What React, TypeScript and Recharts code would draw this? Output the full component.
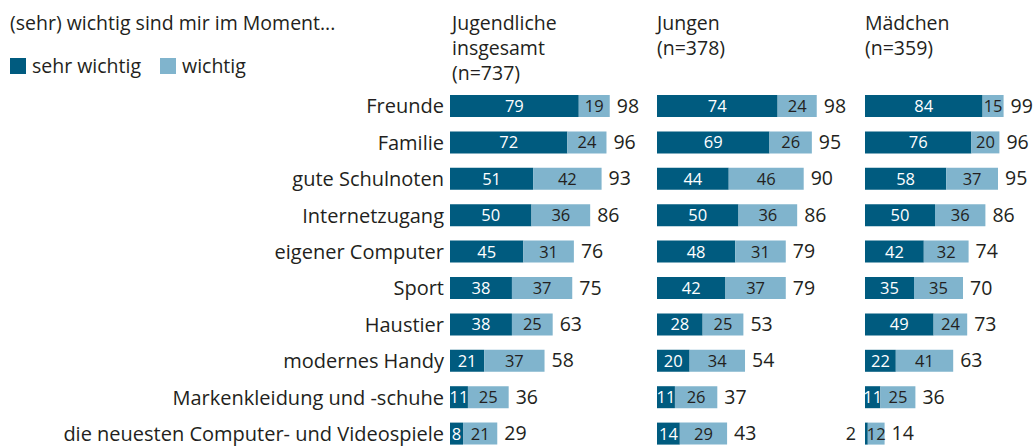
import { Bar, BarChart, LabelList, XAxis, YAxis } from "recharts"

const categories = [
  "Freunde",
  "Familie",
  "gute Schulnoten",
  "Internetzugang",
  "eigener Computer",
  "Sport",
  "Haustier",
  "modernes Handy",
  "Markenkleidung und -schuhe",
  "die neuesten Computer- und Videospiele",
]

// Jugendliche insgesamt (n=737)
const gesamtSehr = [79, 72, 51, 50, 45, 38, 38, 21, 11, 8]
const gesamtWichtig = [19, 24, 42, 36, 31, 37, 25, 37, 25, 21]
const gesamtSumme = [98, 96, 93, 86, 76, 75, 63, 58, 36, 29]

// Jungen (n=378)
const jungenSehr = [74, 69, 44, 50, 48, 42, 28, 20, 11, 14]
const jungenWichtig = [24, 26, 46, 36, 31, 37, 25, 34, 26, 29]
const jungenSumme = [98, 95, 90, 86, 79, 79, 53, 54, 37, 43]

// Mädchen (n=359)
const maedchenSehr = [84, 76, 58, 50, 42, 35, 49, 22, 11, 2]
const maedchenWichtig = [15, 20, 37, 36, 32, 35, 24, 41, 25, 12]
const maedchenSumme = [99, 96, 95, 86, 74, 70, 73, 63, 36, 14]

const title = "(sehr) wichtig sind mir im Moment..."
const headers = [
  ["Jugendliche", "insgesamt", "(n=737)"],
  ["Jungen", "(n=378)"],
  ["Mädchen", "(n=359)"],
]

const FONT = "'Open Sans', sans-serif"
const DARK = "#005b7f"
const LIGHT = "#80b4cd"
const TEXT = "#231f20"

const rows = (sehr: number[], wichtig: number[], summe: number[]) =>
  categories.map((name, i) => ({ name, sehr: sehr[i], wichtig: wichtig[i], summe: summe[i] }))

function SehrLabel(props: any) {
  const x = Number(props.x)
  const y = Number(props.y)
  const w = Number(props.width)
  const h = Number(props.height)
  const outside = props.value < 5
  return (
    <text
      x={outside ? x - 9 : x + w / 2}
      y={y + h / 2}
      dy="0.36em"
      textAnchor={outside ? "end" : "middle"}
      fill={outside ? TEXT : "#fff"}
      fontSize={outside ? 18 : 16.5}
      fontFamily={FONT}
    >
      {props.value}
    </text>
  )
}

function WichtigLabel(props: any) {
  const x = Number(props.x)
  const y = Number(props.y)
  const w = Number(props.width)
  const h = Number(props.height)
  return (
    <text x={x + w / 2} y={y + h / 2} dy="0.36em" textAnchor="middle" fill={TEXT} fontSize={16.5} fontFamily={FONT}>
      {props.value}
    </text>
  )
}

function SummeLabel(props: any) {
  const x = Number(props.x)
  const y = Number(props.y)
  const w = Number(props.width)
  const h = Number(props.height)
  return (
    <text x={x + w + 7} y={y + h / 2} dy="0.34em" textAnchor="start" fill={TEXT} fontSize={19.5} fontFamily={FONT}>
      {props.value}
    </text>
  )
}

interface PanelProps {
  data: any[]
  left: number
  width: number
  marginLeft: number
  marginRight: number
  categoriesAxis?: boolean
}

function Panel({ data, left, width, marginLeft, marginRight, categoriesAxis = false }: PanelProps) {
  return (
    <div style={{ position: "absolute", left, top: 0 }}>
      <BarChart
        width={width}
        height={470}
        data={data}
        layout="vertical"
        barSize={22}
        margin={{ top: 88, right: marginRight, bottom: 18, left: marginLeft }}
      >
        <XAxis type="number" domain={[0, 100]} hide />
        <YAxis
          type="category"
          dataKey="name"
          hide={!categoriesAxis}
          width={categoriesAxis ? 450 : 0}
          axisLine={false}
          tickLine={false}
          tickMargin={0}
          tickSize={6}
          interval={0}
          tick={{ fill: TEXT, fontSize: 20, fontFamily: FONT }}
        />
        <Bar dataKey="sehr" stackId="a" fill={DARK} isAnimationActive={false}>
          <LabelList dataKey="sehr" content={SehrLabel} />
        </Bar>
        <Bar dataKey="wichtig" stackId="a" fill={LIGHT} isAnimationActive={false}>
          <LabelList dataKey="wichtig" content={WichtigLabel} />
          <LabelList dataKey="summe" content={SummeLabel} />
        </Bar>
      </BarChart>
    </div>
  )
}

export default function App() {
  const textStyle = { position: "absolute" as const, fontFamily: FONT, fontSize: 19.5, color: TEXT, lineHeight: "25px", whiteSpace: "nowrap" as const }
  const headerLeft = [452, 657, 865]
  return (
    <div style={{ position: "absolute", left: 0, top: 0, width: 1034, height: 447, overflow: "hidden", background: "#fff" }}>
      <div style={{ ...textStyle, left: 10, top: 10 }}>{title}</div>
      <div style={{ ...textStyle, left: 10, top: 53, display: "flex", alignItems: "center" }}>
        <span style={{ width: 16, height: 16, background: DARK, display: "inline-block", marginRight: 6 }} />
        <span style={{ marginRight: 19 }}>sehr wichtig</span>
        <span style={{ width: 16, height: 16, background: LIGHT, display: "inline-block", marginRight: 6 }} />
        <span>wichtig</span>
      </div>
      {headers.map((lines, i) => (
        <div key={i} style={{ ...textStyle, left: headerLeft[i], top: 10 }}>
          {lines.map((l) => (
            <div key={l}>{l}</div>
          ))}
        </div>
      ))}
      <Panel data={rows(gesamtSehr, gesamtWichtig, gesamtSumme)} left={0} width={655} marginLeft={0} marginRight={42} categoriesAxis />
      <Panel data={rows(jungenSehr, jungenWichtig, jungenSumme)} left={657} width={200} marginLeft={0} marginRight={37} />
      <Panel data={rows(maedchenSehr, maedchenWichtig, maedchenSumme)} left={845} width={189} marginLeft={20} marginRight={29} />
    </div>
  )
}
